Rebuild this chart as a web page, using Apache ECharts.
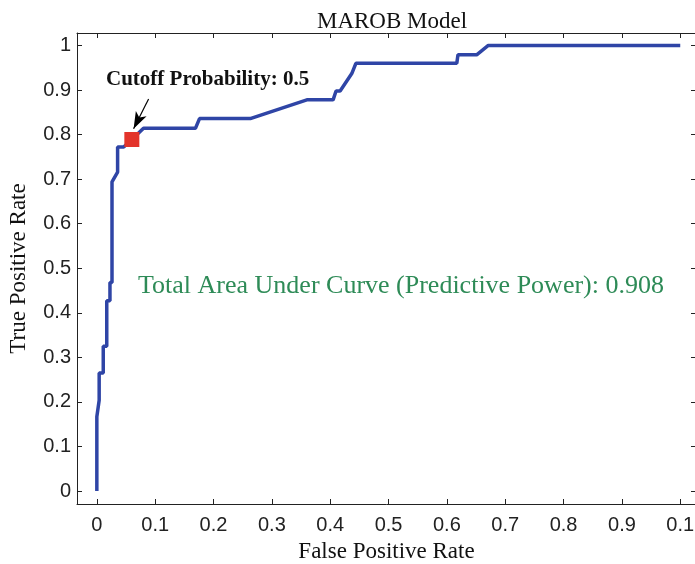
<!DOCTYPE html>
<html>
<head>
<meta charset="utf-8">
<script src="https://cdn.jsdelivr.net/npm/echarts@6/dist/echarts.min.js"></script>
<style>html,body{margin:0;padding:0;background:#fff}#c{width:695px;height:564px}</style>
</head>
<body>
<div id="c"></div>
<script>
// ROC curve: false positive rate / true positive rate
const fpr = [0, 0, 0.004, 0.004, 0.011, 0.011, 0.017, 0.017, 0.0225, 0.0225, 0.026, 0.026, 0.0356, 0.0356, 0.046, 0.060, 0.080, 0.169, 0.176, 0.263, 0.360, 0.405, 0.410, 0.417, 0.437, 0.444, 0.617, 0.619, 0.651, 0.671, 1.0];
const tpr = [0, 0.167, 0.204, 0.265, 0.265, 0.325, 0.325, 0.427, 0.427, 0.468, 0.468, 0.694, 0.716, 0.772, 0.772, 0.789, 0.814, 0.814, 0.836, 0.836, 0.878, 0.878, 0.898, 0.898, 0.937, 0.960, 0.960, 0.979, 0.979, 1.0, 1.0];
const cutoffPoint = [0.060, 0.789];
const arrowFrom = [0.0887, 0.880];
const arrowTo = [0.0630, 0.813];
const xTicks = [0, 0.1, 0.2, 0.3, 0.4, 0.5, 0.6, 0.7, 0.8, 0.9, 1.0];
const xTickLabels = ['0', '0.1', '0.2', '0.3', '0.4', '0.5', '0.6', '0.7', '0.8', '0.9', '0.1'];
const yTicks = [0, 0.1, 0.2, 0.3, 0.4, 0.5, 0.6, 0.7, 0.8, 0.9, 1.0];
const yTickLabels = ['0', '0.1', '0.2', '0.3', '0.4', '0.5', '0.6', '0.7', '0.8', '0.9', '1'];

const chart = echarts.init(document.getElementById('c'), null, {renderer: 'canvas'});
const serif = '"Liberation Serif", "DejaVu Serif", serif';
const sans = '"Liberation Sans", Arial, sans-serif';
const X_MIN = -0.034, X_MAX = 1.027, Y_MIN = -0.029, Y_MAX = 1.028;

const tickStyle = {show: true, inside: true, length: 5, lineStyle: {color: '#222', width: 1}};
const lineStyle = {show: true, onZero: false, lineStyle: {color: '#222', width: 1}};

chart.setOption({
  animation: false,
  title: {
    text: 'MAROB Model', left: 387, top: 5, textAlign: 'center',
    textStyle: {fontFamily: serif, fontSize: 23, fontWeight: 'normal', color: '#111'}
  },
  grid: {left: 77, top: 33, width: 619, height: 471, outerBoundsMode: 'none', containLabel: false},
  xAxis: [{
    type: 'value', position: 'bottom', min: X_MIN, max: X_MAX,
    axisLine: lineStyle,
    axisTick: Object.assign({customValues: xTicks}, tickStyle),
    axisLabel: {customValues: xTicks, margin: 11, fontFamily: sans, fontSize: 20, color: '#222',
      formatter: v => xTickLabels[xTicks.findIndex(t => Math.abs(t - v) < 1e-9)]},
    splitLine: {show: false},
    name: 'False Positive Rate', nameLocation: 'middle', nameGap: 36,
    nameTextStyle: {fontFamily: serif, fontSize: 23, color: '#111'}
  }, {
    type: 'value', position: 'top', min: X_MIN, max: X_MAX,
    axisLine: lineStyle,
    axisTick: Object.assign({customValues: xTicks}, tickStyle),
    axisLabel: {show: false}, splitLine: {show: false}
  }],
  yAxis: [{
    type: 'value', position: 'left', min: Y_MIN, max: Y_MAX,
    axisLine: lineStyle,
    axisTick: Object.assign({customValues: yTicks}, tickStyle),
    axisLabel: {customValues: yTicks, margin: 6, fontFamily: sans, fontSize: 20, color: '#222',
      formatter: v => yTickLabels[yTicks.findIndex(t => Math.abs(t - v) < 1e-9)]},
    splitLine: {show: false},
    name: 'True Positive Rate', nameLocation: 'middle', nameGap: 47, nameRotate: 90,
    nameTextStyle: {fontFamily: serif, fontSize: 23, color: '#111'}
  }, {
    type: 'value', position: 'right', min: Y_MIN, max: Y_MAX,
    axisLine: lineStyle,
    axisTick: Object.assign({customValues: yTicks}, tickStyle),
    axisLabel: {show: false}, splitLine: {show: false}
  }],
  series: [{
    type: 'line',
    data: fpr.map((x, i) => [x, tpr[i]]),
    showSymbol: false, symbol: 'none',
    lineStyle: {color: '#2f45a6', width: 3.5},
    z: 3,
    markLine: {
      silent: true,
      symbol: ['none', 'arrow'], symbolSize: [9, 17],
      lineStyle: {color: '#000', width: 1.2, type: 'solid'},
      label: {show: false},
      data: [[{coord: arrowFrom}, {coord: arrowTo}]]
    }
  }, {
    type: 'scatter',
    data: [cutoffPoint],
    symbol: 'rect', symbolSize: 15,
    itemStyle: {color: '#e3342b', opacity: 1},
    z: 4
  }],
  graphic: [{
    type: 'text', left: 106, top: 69,
    style: {text: 'Cutoff Probability: 0.5', fontFamily: serif, fontSize: 21, fontWeight: 'bold', fill: '#111'}
  }, {
    type: 'text', left: 138, top: 273,
    style: {text: 'Total Area Under Curve (Predictive Power): 0.908', fontFamily: serif, fontSize: 26, fill: '#2e8b57'}
  }]
});
</script>
</body>
</html>
